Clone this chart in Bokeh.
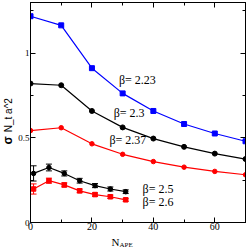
import numpy as np
from bokeh.plotting import figure
from bokeh.layouts import column, row
from bokeh.models import FixedTicker, LinearAxis, Label, Whisker, ColumnDataSource, TeeHead, Range1d
from bokeh.embed import file_html
from bokeh.resources import INLINE

# data
n_ape_long = [0, 10, 20, 30, 40, 50, 60, 70]
sig_223 = [1.219, 1.165, 0.912, 0.763, 0.659, 0.582, 0.526, 0.480]
sig_230 = [0.821, 0.811, 0.659, 0.562, 0.496, 0.447, 0.407, 0.375]
sig_237 = [0.543, 0.560, 0.465, 0.403, 0.360, 0.327, 0.302, 0.282]

n_ape_short = [1, 6, 11, 16, 21, 26, 31]
sig_250 = [0.29, 0.325, 0.29, 0.247, 0.218, 0.198, 0.182]
err_250 = [0.045, 0.02, 0.015, 0.014, 0.012, 0.012, 0.011]
sig_260 = [0.198, 0.247, 0.222, 0.187, 0.165, 0.152, 0.134]
err_260 = [0.03, 0.015, 0.012, 0.011, 0.01, 0.01, 0.009]

x_ticks = [0, 20, 40, 60]
x_minor = [10, 30, 50, 70]
y_ticks = [0, 0.5, 1]
y_minor = [0.25, 0.75, 1.25]
y_tick_labels = {0: "0", 0.5: "0.5", 1: "1"}

labels = [
    ("β= 2.23", 28.8, 0.84),
    ("β= 2.3", 27.1, 0.648),
    ("β= 2.37", 25.7, 0.486),
    ("β= 2.5", 36.5, 0.198),
    ("β= 2.6", 36.5, 0.121),
]

BLUE = "#0000ff"
RED = "#ff0000"
BLACK = "#000000"
SERIF = "Liberation Serif"
SANS = "Liberation Sans"

W, H = 249, 249
YL_W = 15      # strip for y title
XL_H = 15      # strip for x title
MAIN_W, MAIN_H = W - YL_W, H - XL_H

p = figure(width=MAIN_W, height=MAIN_H, output_backend="svg", toolbar_location=None,
           x_range=Range1d(0, 70), y_range=Range1d(0, 1.3),
           min_border_left=12, min_border_right=4, min_border_top=2, min_border_bottom=12)
p.grid.visible = False
p.outline_line_color = BLACK
p.background_fill_color = "white"
p.border_fill_color = "white"

xa = p.xaxis[0]
ya = p.yaxis[0]
xa.ticker = FixedTicker(ticks=x_ticks, minor_ticks=x_minor)
ya.ticker = FixedTicker(ticks=y_ticks, minor_ticks=y_minor)
ya.major_label_overrides = y_tick_labels
for ax in (xa, ya):
    ax.major_tick_in = 5
    ax.major_tick_out = 0
    ax.minor_tick_in = 3
    ax.minor_tick_out = 0
    ax.axis_line_color = BLACK
    ax.major_label_text_font = SERIF
    ax.major_label_text_color = BLACK
xa.major_label_text_font_size = "10px"
xa.major_label_standoff = 0
ya.major_label_text_font_size = "9px"
ya.major_label_standoff = 1

for loc in ("right", "above"):
    ax = LinearAxis()
    if loc == "right":
        ax.ticker = FixedTicker(ticks=y_ticks, minor_ticks=y_minor)
        ax.major_label_overrides = {t: "" for t in y_ticks}
    else:
        ax.ticker = FixedTicker(ticks=x_ticks, minor_ticks=x_minor)
        ax.major_label_overrides = {t: "" for t in x_ticks}
    ax.major_tick_in = 5
    ax.major_tick_out = 0
    ax.minor_tick_in = 3
    ax.minor_tick_out = 0
    ax.major_label_standoff = 0
    ax.axis_line_color = BLACK
    p.add_layout(ax, loc)

p.line(n_ape_long, sig_223, color=BLUE, line_width=1.2)
p.scatter(n_ape_long, sig_223, marker="square", size=5, color=BLUE)
p.line(n_ape_long, sig_230, color=BLACK, line_width=1.2)
p.scatter(n_ape_long, sig_230, marker="circle", size=5, color=BLACK)
p.line(n_ape_long, sig_237, color=RED, line_width=1.2)
p.scatter(n_ape_long, sig_237, marker="circle", size=4.5, color=RED)

src50 = ColumnDataSource(dict(x=n_ape_short, y=sig_250,
                              lo=[a - b for a, b in zip(sig_250, err_250)],
                              hi=[a + b for a, b in zip(sig_250, err_250)]))
src60 = ColumnDataSource(dict(x=n_ape_short, y=sig_260,
                              lo=[a - b for a, b in zip(sig_260, err_260)],
                              hi=[a + b for a, b in zip(sig_260, err_260)]))
for src, col, mk in ((src50, BLACK, "circle"), (src60, RED, "square")):
    p.line("x", "y", source=src, color=col, line_width=1.2)
    p.scatter("x", "y", source=src, marker=mk, size=4.5, color=col)
    w = Whisker(base="x", lower="lo", upper="hi", source=src, line_color=col, line_width=1,
                upper_head=TeeHead(size=6, line_color=col, line_width=1),
                lower_head=TeeHead(size=6, line_color=col, line_width=1))
    p.add_layout(w)

for txt, x, y in labels:
    p.add_layout(Label(x=x, y=y, text=txt, text_font=SERIF, text_font_size="12px",
                       text_color=BLACK, text_baseline="middle", text_align="left"))


def strip(width, height):
    f = figure(width=width, height=height, output_backend="svg", toolbar_location=None,
               x_range=Range1d(0, width), y_range=Range1d(0, height),
               x_axis_type=None, y_axis_type=None, min_border=0)
    f.title.visible = False
    f.grid.visible = False
    f.outline_line_color = None
    f.background_fill_color = "white"
    f.border_fill_color = "white"
    return f


# y title strip (strip pixels, y upward)
ys = strip(YL_W, MAIN_H)
ys.add_layout(Label(x=7.5, y=MAIN_H - 151, text="σ", text_font=SANS, text_font_size="12px",
                    text_font_style="bold", angle=np.pi / 2, text_color=BLACK,
                    text_baseline="middle", text_align="left"))
ys.add_layout(Label(x=7.5, y=MAIN_H - 138, text="N_t a^2", text_font=SANS, text_font_size="10px",
                    angle=np.pi / 2, text_color=BLACK,
                    text_baseline="middle", text_align="left"))

# x title strip
xs = strip(W, XL_H)
xs.add_layout(Label(x=111, y=8, text="N", text_font=SERIF, text_font_size="11px",
                    text_color=BLACK, text_baseline="middle", text_align="left"))
xs.add_layout(Label(x=119, y=4.5, text="APE", text_font=SERIF, text_font_size="7px",
                    text_color=BLACK, text_baseline="middle", text_align="left"))

layout = column(row(ys, p, spacing=0), xs, spacing=0)

html = file_html(layout, INLINE)
html = html.replace("<body>", '<body style="margin:0">', 1)
open("out.html", "w").write(html)
